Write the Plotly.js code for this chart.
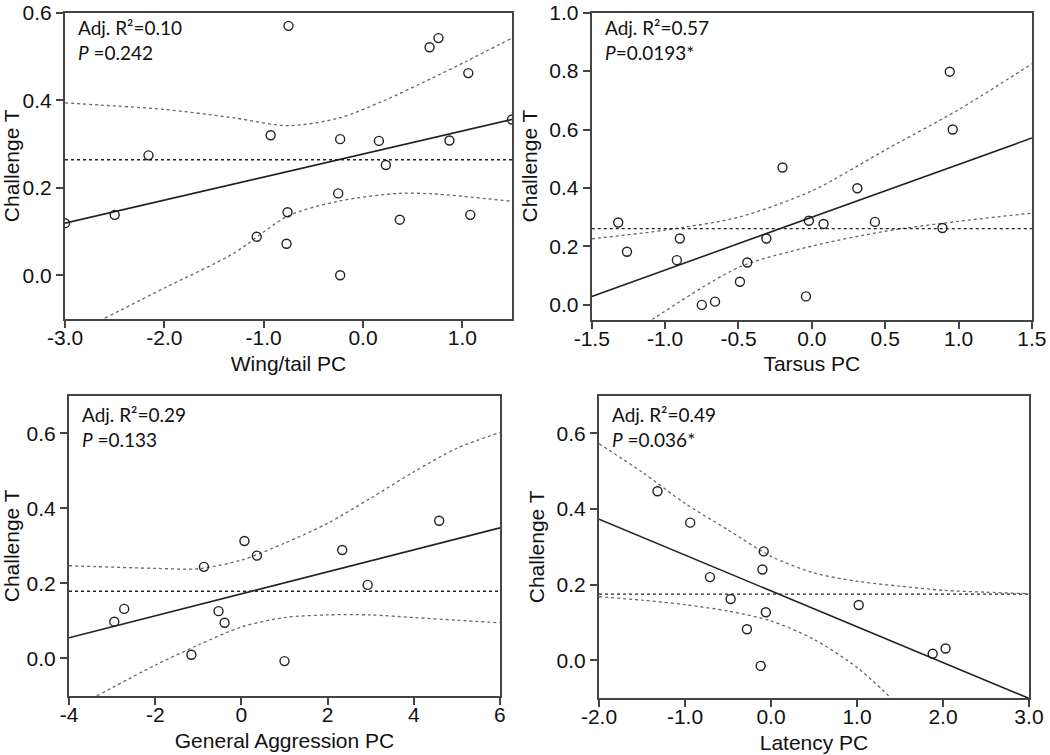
<!DOCTYPE html>
<html>
<head>
<meta charset="utf-8">
<script src="https://cdn.plot.ly/plotly-3.0.1.min.js"></script>
<style>html,body{margin:0;padding:0;background:#fff;}#chart{width:1050px;height:755px;}</style>
</head>
<body>
<div id="chart"></div>
<script>
// ---------- Panel A: Wing/tail PC ----------
const wingX = [-3.0, -2.50, -2.16, -1.07, -0.93, -0.77, -0.76, -0.75, -0.25, -0.23, -0.23, 0.16, 0.23, 0.37, 0.67, 0.76, 0.87, 1.06, 1.08, 1.5];
const wingY = [0.119, 0.138, 0.274, 0.088, 0.320, 0.072, 0.144, 0.570, 0.187, 0.311, 0.000, 0.307, 0.252, 0.127, 0.521, 0.542, 0.308, 0.462, 0.138, 0.356];
const wingFitX = [-3.0, 1.5];
const wingFitY = [0.119, 0.356];
const wingMeanX = [-3.0, 1.5];
const wingMeanY = [0.264, 0.264];
const wingUpX = [-3.0, -2.65, -2.0, -1.31, -0.75, -0.23, 0.2, 0.70, 1.04, 1.5];
const wingUpY = [0.394, 0.389, 0.379, 0.360, 0.342, 0.360, 0.398, 0.451, 0.489, 0.542];
const wingLoX = [-2.60, -1.98, -1.31, -0.75, -0.23, 0.35, 0.70, 1.5];
const wingLoY = [-0.098, -0.027, 0.049, 0.136, 0.170, 0.187, 0.186, 0.169];
const wingXTicks = [-3, -2, -1, 0, 1];
const wingXText = ["-3.0", "-2.0", "-1.0", "0.0", "1.0"];

// ---------- Panel B: Tarsus PC ----------
const tarsusX = [-1.32, -1.26, -0.92, -0.90, -0.75, -0.66, -0.49, -0.44, -0.31, -0.20, -0.04, -0.02, 0.08, 0.31, 0.43, 0.89, 0.94, 0.96];
const tarsusY = [0.282, 0.182, 0.153, 0.227, 0.000, 0.011, 0.079, 0.145, 0.227, 0.470, 0.029, 0.288, 0.277, 0.399, 0.284, 0.263, 0.798, 0.600];
const tarsusFitX = [-1.5, 1.5];
const tarsusFitY = [0.029, 0.571];
const tarsusMeanX = [-1.5, 1.5];
const tarsusMeanY = [0.261, 0.261];
const tarsusUpX = [-1.5, -1.0, -0.5, 0.0, 0.5, 1.0, 1.5];
const tarsusUpY = [0.226, 0.256, 0.300, 0.390, 0.530, 0.668, 0.825];
const tarsusLoX = [-1.09, -0.5, 0.0, 0.5, 1.0, 1.5];
const tarsusLoY = [-0.051, 0.128, 0.201, 0.252, 0.286, 0.314];
const tarsusXTicks = [-1.5, -1.0, -0.5, 0.0, 0.5, 1.0, 1.5];
const tarsusXText = ["-1.5", "-1.0", "-0.5", "0.0", "0.5", "1.0", "1.5"];

// ---------- Panel C: General Aggression PC ----------
const aggX = [-2.95, -2.72, -1.16, -0.87, -0.53, -0.39, 0.07, 0.36, 1.00, 2.34, 2.93, 4.59];
const aggY = [0.098, 0.132, 0.010, 0.244, 0.126, 0.095, 0.313, 0.274, -0.007, 0.289, 0.196, 0.367];
const aggFitX = [-4, 6];
const aggFitY = [0.055, 0.348];
const aggMeanX = [-4, 6];
const aggMeanY = [0.179, 0.179];
const aggUpX = [-4, -2, -1, 0, 1, 2, 3, 4, 5, 6];
const aggUpY = [0.247, 0.240, 0.239, 0.262, 0.307, 0.360, 0.427, 0.497, 0.560, 0.602];
const aggLoX = [-3.36, -2, -1, 0, 1, 2, 3, 4, 5, 6];
const aggLoY = [-0.100, -0.018, 0.036, 0.084, 0.109, 0.116, 0.116, 0.109, 0.102, 0.095];
const aggXTicks = [-4, -2, 0, 2, 4, 6];
const aggXText = ["-4", "-2", "0", "2", "4", "6"];

// ---------- Panel D: Latency PC ----------
const latX = [-1.32, -0.94, -0.71, -0.47, -0.28, -0.12, -0.10, -0.085, -0.06, 1.02, 1.88, 2.03];
const latY = [0.447, 0.364, 0.220, 0.162, 0.082, -0.015, 0.240, 0.288, 0.127, 0.146, 0.017, 0.031];
const latFitX = [-2.0, 3.0];
const latFitY = [0.373, -0.101];
const latMeanX = [-2.0, 3.0];
const latMeanY = [0.175, 0.175];
const latUpX = [-2.0, -1.5, -1.0, -0.5, 0.0, 0.5, 1.0, 1.5, 2.0, 2.5, 3.0];
const latUpY = [0.573, 0.498, 0.415, 0.345, 0.275, 0.231, 0.209, 0.196, 0.185, 0.180, 0.176];
const latLoX = [-2.0, -1.5, -1.0, -0.5, 0.0, 0.5, 1.0, 1.4];
const latLoY = [0.168, 0.159, 0.147, 0.130, 0.104, 0.055, -0.019, -0.101];
const latXTicks = [-2, -1, 0, 1, 2, 3];
const latXText = ["-2.0", "-1.0", "0.0", "1.0", "2.0", "3.0"];

// ---------- Shared ----------
const yTicks06 = [0, 0.2, 0.4, 0.6];
const yText06 = ["0.0", "0.2", "0.4", "0.6"];
const yTicks10 = [0, 0.2, 0.4, 0.6, 0.8, 1.0];
const yText10 = ["0.0", "0.2", "0.4", "0.6", "0.8", "1.0"];
const xTitles = ["Wing/tail PC", "Tarsus PC", "General Aggression PC", "Latency PC"];
const yTitle = "Challenge T";
const statLines = [
  "Adj. R²=0.10<br><i>P</i> =0.242",
  "Adj. R²=0.57<br><i>P</i>=0.0193*",
  "Adj. R²=0.29<br><i>P</i> =0.133",
  "Adj. R²=0.49<br><i>P</i> =0.036*"
];

const panels = [
  {x: wingX, y: wingY, fx: wingFitX, fy: wingFitY, mx: wingMeanX, my: wingMeanY, ux: wingUpX, uy: wingUpY, lx: wingLoX, ly: wingLoY},
  {x: tarsusX, y: tarsusY, fx: tarsusFitX, fy: tarsusFitY, mx: tarsusMeanX, my: tarsusMeanY, ux: tarsusUpX, uy: tarsusUpY, lx: tarsusLoX, ly: tarsusLoY},
  {x: aggX, y: aggY, fx: aggFitX, fy: aggFitY, mx: aggMeanX, my: aggMeanY, ux: aggUpX, uy: aggUpY, lx: aggLoX, ly: aggLoY},
  {x: latX, y: latY, fx: latFitX, fy: latFitY, mx: latMeanX, my: latMeanY, ux: latUpX, uy: latUpY, lx: latLoX, ly: latLoY}
];

const axisCol = '#444';
const traces = [];
panels.forEach((p, i) => {
  const xa = i === 0 ? 'x' : 'x' + (i + 1);
  const ya = i === 0 ? 'y' : 'y' + (i + 1);
  traces.push({x: p.ux, y: p.uy, xaxis: xa, yaxis: ya, mode: 'lines', line: {color: '#666', width: 1.3, dash: 'dot', shape: 'spline', smoothing: 0.8}, hoverinfo: 'skip'});
  traces.push({x: p.lx, y: p.ly, xaxis: xa, yaxis: ya, mode: 'lines', line: {color: '#666', width: 1.3, dash: 'dot', shape: 'spline', smoothing: 0.8}, hoverinfo: 'skip'});
  traces.push({x: p.mx, y: p.my, xaxis: xa, yaxis: ya, mode: 'lines', line: {color: '#222', width: 1.3, dash: 'dot'}, hoverinfo: 'skip'});
  traces.push({x: p.fx, y: p.fy, xaxis: xa, yaxis: ya, mode: 'lines', line: {color: '#222', width: 1.6}});
  traces.push({x: p.x, y: p.y, xaxis: xa, yaxis: ya, mode: 'markers', cliponaxis: true,
    marker: {symbol: 'circle-open', size: 9, color: '#222', line: {width: 1.4, color: '#222'}}});
});

const tickFont = {family: '"Liberation Sans", Arial, sans-serif', size: 21, color: '#111'};
const titleFont = {family: '"Liberation Sans", Arial, sans-serif', size: 21, color: '#111'};

function xAxis(domain, range, tv, tt, title, anchor) {
  return {domain: domain, range: range, anchor: anchor, tickmode: 'array', tickvals: tv, ticktext: tt,
    showline: true, mirror: true, linecolor: axisCol, linewidth: 2, ticks: 'outside', ticklen: 7, tickwidth: 2, tickcolor: axisCol,
    ticklabelstandoff: -8, ticklabeloverflow: 'allow',
    showgrid: false, zeroline: false, tickfont: tickFont, title: {text: title, font: titleFont, standoff: 8}};
}
function yAxis(domain, range, tv, tt, anchor) {
  return {domain: domain, range: range, anchor: anchor, tickmode: 'array', tickvals: tv, ticktext: tt,
    showline: true, mirror: true, linecolor: axisCol, linewidth: 2, ticks: 'outside', ticklen: 7, tickwidth: 2, tickcolor: axisCol,
    ticklabeloverflow: 'allow',
    showgrid: false, zeroline: false, tickfont: tickFont, title: {text: yTitle, font: titleFont, standoff: 6}};
}

const W = 1050, H = 755;
const layout = {
  width: W, height: H, margin: {l: 0, r: 0, t: 0, b: 0}, showlegend: false,
  paper_bgcolor: '#fff', plot_bgcolor: '#fff',
  xaxis:  xAxis([65 / W, 512 / W], [-3.0005, 1.5], wingXTicks, wingXText, xTitles[0], 'y'),
  yaxis:  yAxis([(H - 319) / H, (H - 12.5) / H], [-0.1, 0.6005], yTicks06, yText06, 'x'),
  xaxis2: xAxis([591.7 / W, 1032 / W], [-1.5005, 1.5005], tarsusXTicks, tarsusXText, xTitles[1], 'y2'),
  yaxis2: yAxis([(H - 319.5) / H, (H - 12.5) / H], [-0.05, 1.0005], yTicks10, yText10, 'x2'),
  xaxis3: xAxis([69 / W, 500 / W], [-4.001, 6.001], aggXTicks, aggXText, xTitles[2], 'y3'),
  yaxis3: yAxis([(H - 696) / H, (H - 395.7) / H], [-0.1, 0.7], yTicks06, yText06, 'x3'),
  xaxis4: xAxis([599 / W, 1029 / W], [-2.0005, 3.0005], latXTicks, latXText, xTitles[3], 'y4'),
  yaxis4: yAxis([(H - 698) / H, (H - 395.7) / H], [-0.1, 0.7], yTicks06, yText06, 'x4'),
  annotations: statLines.map((t, i) => ({
    text: t, xref: (i === 0 ? 'x' : 'x' + (i + 1)) + ' domain', yref: (i === 0 ? 'y' : 'y' + (i + 1)) + ' domain',
    x: 0, y: 1, xanchor: 'left', yanchor: 'top', align: 'left', xshift: 11, yshift: (i < 2 ? -2 : -5), showarrow: false,
    font: {family: 'Lato, "Open Sans", sans-serif', size: 19, color: '#111'}
  }))
};

Plotly.newPlot('chart', traces, layout, {displayModeBar: false, staticPlot: true});
</script>
</body>
</html>
